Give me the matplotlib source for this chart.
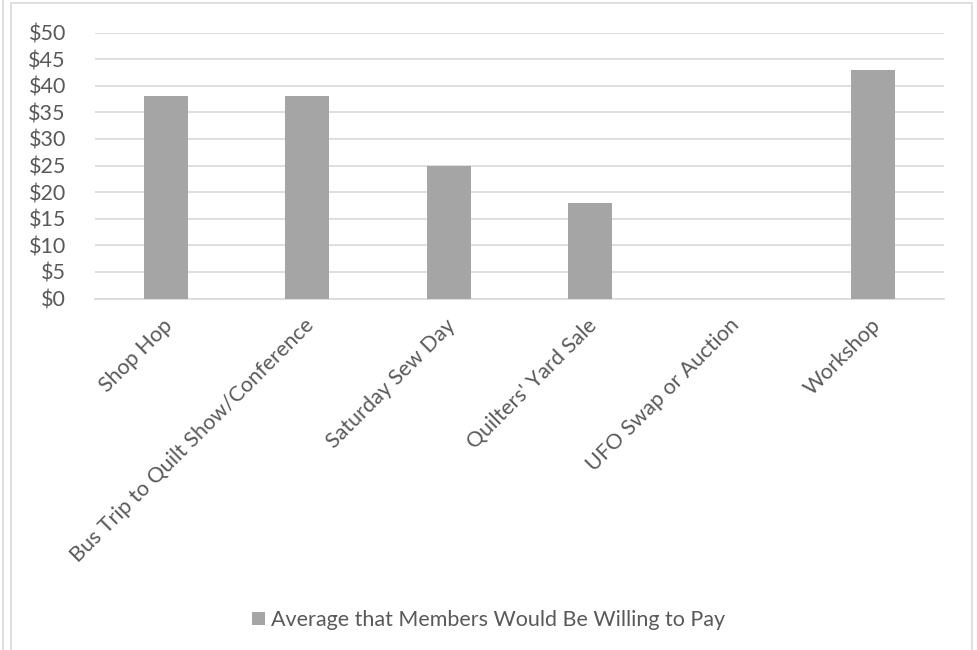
import matplotlib
matplotlib.use("Agg")
import matplotlib.pyplot as plt
from matplotlib.patches import Rectangle
from matplotlib.lines import Line2D
import matplotlib.transforms as mtrans

categories = ["Shop Hop", "Bus Trip to Quilt Show/Conference", "Saturday Sew Day",
              "Quilters' Yard Sale", "UFO Swap or Auction", "Workshop"]
values = [38, 38, 25, 18, 0, 43]
yticks = [0, 5, 10, 15, 20, 25, 30, 35, 40, 45, 50]
ytick_labels = ["$" + str(v) for v in yticks]
series_name = "Average that Members Would Be Willing to Pay"

plt.rcParams['font.family'] = ['Lato', 'DejaVu Sans']
W, H = 977, 650
fig = plt.figure(figsize=(W / 100, H / 100), dpi=100)
fig.patch.set_facecolor("white")

# outer frame
fig.add_artist(Rectangle((11 / W, -0.01), (972 - 11) / W, (H - 3) / H + 0.01,
                         transform=fig.transFigure, fill=False, edgecolor="#D9D9D9", lw=1.2))
fig.add_artist(Line2D([3 / W, 3 / W], [0, 1], transform=fig.transFigure, color="#D9D9D9", lw=1.2))

FS = 15.5
left, right = 95, 944
top, bottom = 32.5, 298.5
ax = fig.add_axes([left / W, 1 - bottom / H, (right - left) / W, (bottom - top) / H])
x = list(range(len(categories)))
bars = ax.bar(x, values, width=0.31, color="#A5A5A5", zorder=3, label=series_name)
ax.set_xlim(-0.5, len(categories) - 0.5)
ax.set_ylim(0, 50)
ax.set_yticks(yticks)
ax.set_yticklabels(ytick_labels, fontsize=FS, color="#595959")
ax.grid(axis="y", color="#D9D9D9", lw=1.2, zorder=0)
for s in ["top", "right", "left"]:
    ax.spines[s].set_visible(False)
ax.spines["bottom"].set_color("#D9D9D9")
ax.spines["bottom"].set_linewidth(1.2)
ax.tick_params(axis="y", length=0, pad=21)
ax.tick_params(axis="x", length=0, pad=17)
ax.set_xticks(x)
ax.set_xticklabels(categories, rotation=45, ha="right", va="center", rotation_mode="anchor",
                   fontsize=FS, color="#595959")
off = mtrans.ScaledTranslation(4 / 100, 0, fig.dpi_scale_trans)
for lab in ax.get_xticklabels():
    lab.set_transform(lab.get_transform() + off)

leg = fig.legend(handles=[bars], labels=[series_name], loc="center",
                 bbox_to_anchor=(0.5, 1 - 620 / H), frameon=False, fontsize=FS,
                 handlelength=0.6, handleheight=0.6, handletextpad=0.3)
for t in leg.get_texts():
    t.set_color("#595959")

fig.savefig("out.png", dpi=100, facecolor="white")
